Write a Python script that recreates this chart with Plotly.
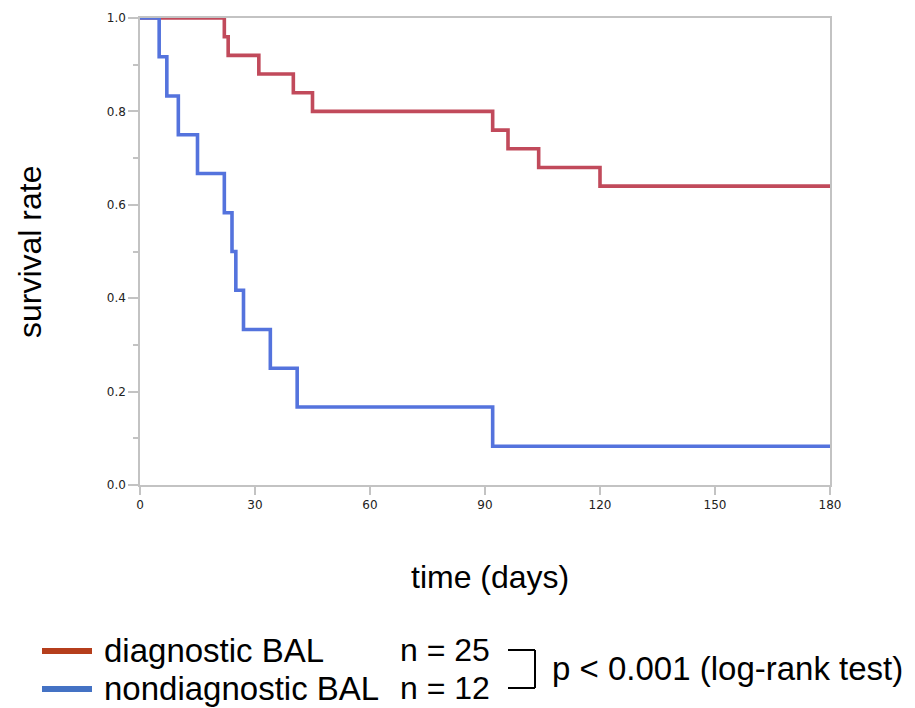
import plotly.graph_objects as go

# ---- data ----
diag_days = [0, 22, 23, 31, 40, 45, 92, 96, 104, 120, 180]
diag_surv = [1.0, 0.96, 0.92, 0.88, 0.84, 0.80, 0.76, 0.72, 0.68, 0.64, 0.64]

nondiag_days = [0, 5, 7, 10, 15, 22, 24, 25, 27, 34, 41, 92, 180]
nondiag_surv = [1.0, 0.917, 0.833, 0.75, 0.667, 0.583, 0.5, 0.417, 0.333, 0.25, 0.167, 0.083, 0.083]

x_ticks = [0, 30, 60, 90, 120, 150, 180]
y_ticks = [0.0, 0.2, 0.4, 0.6, 0.8, 1.0]

series_names = ["diagnostic BAL", "nondiagnostic BAL"]
series_n = ["n = 25", "n = 12"]
p_text = "p < 0.001 (log-rank test)"
x_title = "time (days)"
y_title = "survival rate"

# ---- styles ----
RED = "#C14A5B"
BLUE = "#5473DD"
LEG_RED = "#B53E1C"
LEG_BLUE = "#4472C4"
AXIS = "#C3C3C3"
TXT_FONT = "Liberation Sans, Arial, sans-serif"

W, H = 915, 708
L, R, T, B = 140, 85, 18, 223
PW, PH = W - L - R, H - T - B


def px(xp):
    return (xp - L) / PW


def py(yp):
    return (H - B - yp) / PH


fig = go.Figure()
fig.add_trace(go.Scatter(x=diag_days, y=diag_surv, mode="lines", line_shape="hv",
                         line=dict(color=RED, width=3.6), name=series_names[0],
                         showlegend=False))
fig.add_trace(go.Scatter(x=nondiag_days, y=nondiag_surv, mode="lines", line_shape="hv",
                         line=dict(color=BLUE, width=3.6), name=series_names[1],
                         showlegend=False))

fig.update_xaxes(range=[0, 180], tickvals=x_ticks, ticks="outside", ticklen=8,
                 tickwidth=1.5, tickcolor=AXIS, showline=True, linecolor=AXIS,
                 linewidth=1.5, mirror=True, showgrid=False, zeroline=False,
                 tickfont=dict(family="DejaVu Sans", size=12, color="#222"))
fig.update_yaxes(range=[0, 1], tickvals=y_ticks, tickformat=".1f", ticks="outside",
                 ticklen=10, tickwidth=1.5, tickcolor=AXIS, showline=True,
                 linecolor=AXIS, linewidth=1.5, mirror=True, showgrid=False,
                 zeroline=False,
                 minor=dict(dtick=0.1, ticks="outside", ticklen=5, tickcolor=AXIS,
                            tickwidth=1.5, showgrid=False),
                 tickfont=dict(family="DejaVu Sans", size=12, color="#222"))

shapes = []
annos = []

# axis titles
annos.append(dict(x=px(490), y=py(577), xref="paper", yref="paper", text=x_title,
                  showarrow=False, xanchor="center", yanchor="middle",
                  font=dict(family=TXT_FONT, size=32, color="#000")))
annos.append(dict(x=px(30), y=py(252), xref="paper", yref="paper", text=y_title,
                  showarrow=False, xanchor="center", yanchor="middle", textangle=-90,
                  font=dict(family=TXT_FONT, size=32, color="#000")))

# legend rows
rows = [(651, LEG_RED), (689, LEG_BLUE)]
for i, (yy, col) in enumerate(rows):
    shapes.append(dict(type="line", xref="paper", yref="paper",
                       x0=px(42), x1=px(92), y0=py(yy), y1=py(yy),
                       line=dict(color=col, width=6)))
    annos.append(dict(x=px(102), y=py(yy - 1), xref="paper", yref="paper",
                      text=series_names[i], showarrow=False, xanchor="left",
                      yanchor="middle",
                      font=dict(family=TXT_FONT, size=33, color="#000")))
    annos.append(dict(x=px(398), y=py(yy - 1), xref="paper", yref="paper",
                      text=series_n[i], showarrow=False, xanchor="left",
                      yanchor="middle",
                      font=dict(family=TXT_FONT, size=32, color="#000")))

# bracket
for seg in [(508, 650, 535, 650), (535, 650, 535, 688), (508, 688, 535, 688)]:
    shapes.append(dict(type="line", xref="paper", yref="paper",
                       x0=px(seg[0]), y0=py(seg[1]), x1=px(seg[2]), y1=py(seg[3]),
                       line=dict(color="#000", width=2)))
annos.append(dict(x=px(550), y=py(668), xref="paper", yref="paper", text=p_text,
                  showarrow=False, xanchor="left", yanchor="middle",
                  font=dict(family=TXT_FONT, size=33, color="#000")))

fig.update_layout(width=W, height=H, margin=dict(l=L, r=R, t=T, b=B),
                  plot_bgcolor="white", paper_bgcolor="white",
                  shapes=shapes, annotations=annos, showlegend=False)

fig.write_html("out.html", config={"displayModeBar": False})

# remove the browser's default body margin so the figure sits at the page origin
with open("out.html", "r", encoding="utf-8") as f:
    html = f.read()
html = html.replace("<head>", "<head><style>html,body{margin:0;padding:0;overflow:hidden}</style>", 1)
with open("out.html", "w", encoding="utf-8") as f:
    f.write(html)
